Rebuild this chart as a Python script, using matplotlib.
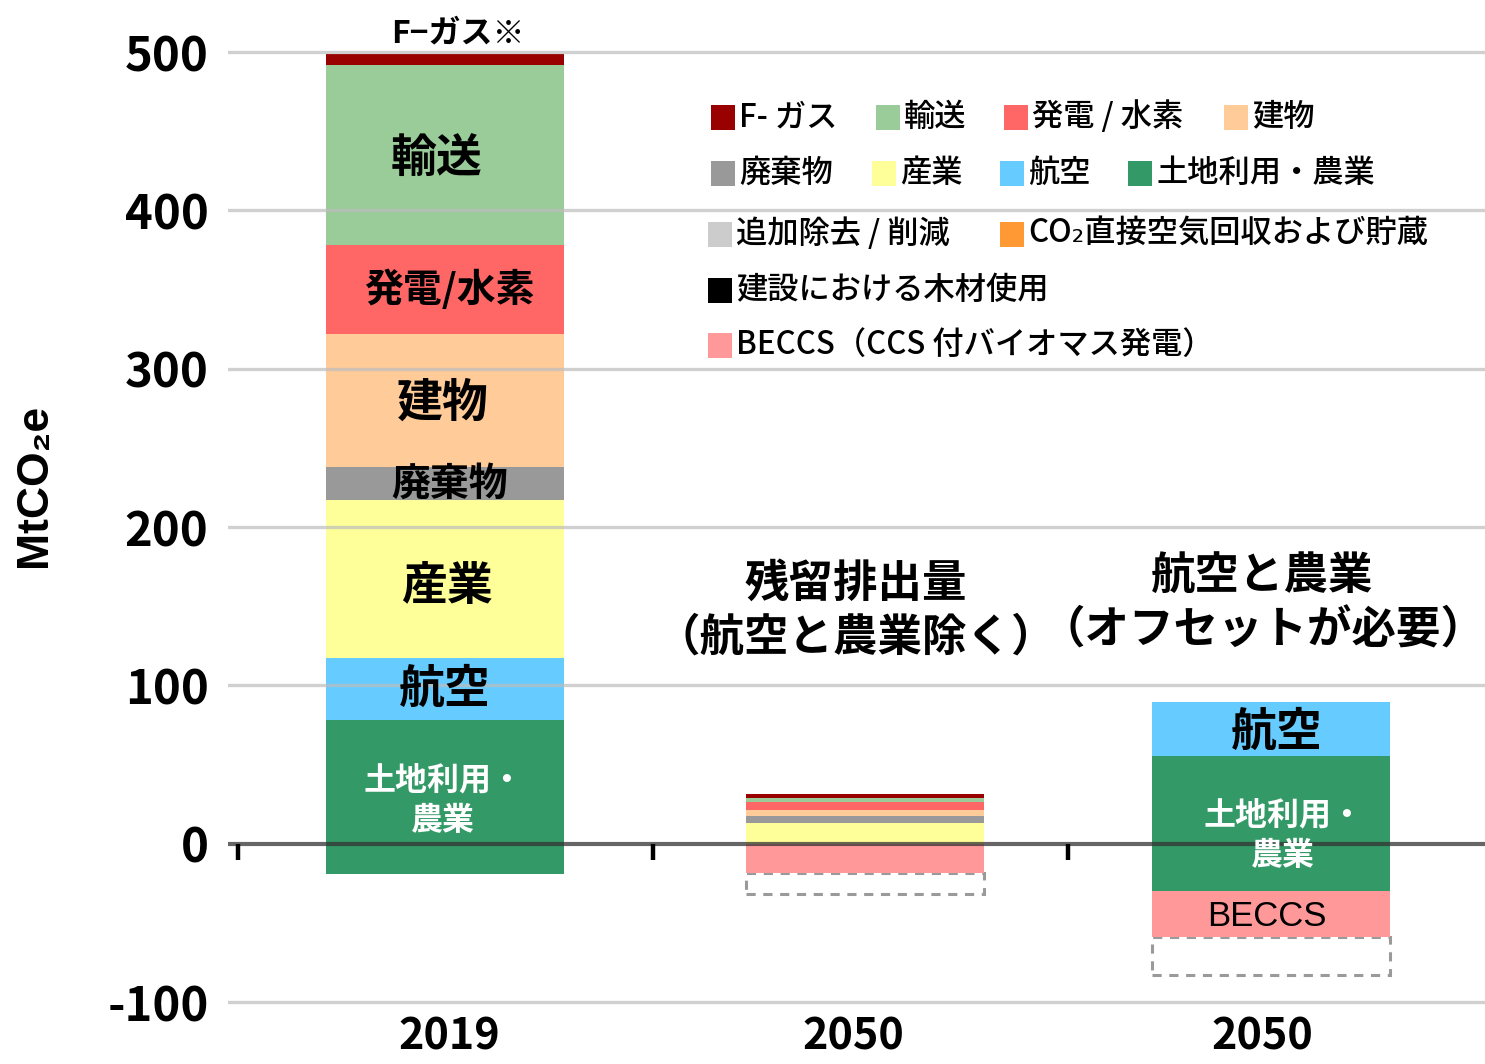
import matplotlib
matplotlib.use("Agg")
import matplotlib.pyplot as plt
from matplotlib.patches import Rectangle
from matplotlib.transforms import Affine2D

plt.rcParams["font.family"] = ["Noto Sans CJK JP", "DejaVu Sans"]

# ---- data (MtCO2e) ----
categories = ["2019", "2050", "2050"]
xpos = [0, 1.012, 1.99]

# stacked upward from zero, bottom -> top
sectors = ["土地利用・農業", "航空", "産業", "廃棄物", "建物", "発電 / 水素", "輸送", "F- ガス"]
sector_colors = ["#339966", "#66ccff", "#ffff99", "#999999", "#ffcc99", "#ff6666", "#99cc99", "#990000"]
values_2019 = [78, 39, 100, 21, 84, 56, 114, 7]
values_residual = [0, 0, 13, 4.5, 3.7, 5, 2.5, 3]
values_offset = [55.5, 34, 0, 0, 0, 0, 0, 0]

# below zero, stacked downward
landuse_neg = [-19, 0, -29.6]
beccs = [0, -18.5, -29]
extra_removal = [0, -13, -24.4]

yticks = [-100, 0, 100, 200, 300, 400, 500]

legend_labels = ["F- ガス", "輸送", "発電 / 水素", "建物",
                 "廃棄物", "産業", "航空", "土地利用・農業",
                 "追加除去 / 削減", "CO₂直接空気回収および貯蔵",
                 "建設における木材使用",
                 "BECCS（CCS 付バイオマス発電）"]
legend_colors = ["#990000", "#99cc99", "#ff6666", "#ffcc99",
                 "#999999", "#ffff99", "#66ccff", "#339966",
                 "#cccccc", "#ff9933", "#000000", "#ff9999"]

W, H = 1485, 1064
fig = plt.figure(figsize=(W / 100, H / 100), dpi=100)
ax = fig.add_axes([228 / W, 1 - 1010 / H, 1257 / W, 980 / H])
ax.set_xlim(-0.523, 2.506)
ax.set_ylim(-105, 513.9)
bw = 0.573

# positive stacks
series = [values_2019, values_residual, values_offset]
bottom = [0.0, 0.0, 0.0]
for i, (name, col) in enumerate(zip(sectors, sector_colors)):
    vals = [s[i] for s in series]
    ax.bar(xpos, vals, bottom=bottom, width=bw, color=col, zorder=2, linewidth=0)
    bottom = [b + v for b, v in zip(bottom, vals)]

# negative stacks
ax.bar(xpos, landuse_neg, width=bw, color="#339966", zorder=2, linewidth=0)
ax.bar(xpos, beccs, bottom=landuse_neg, width=bw, color="#ff9999", zorder=2, linewidth=0)
for xi, lu, b, r in zip(xpos, landuse_neg, beccs, extra_removal):
    if r == 0:
        continue
    ax.add_patch(Rectangle((xi - bw / 2, lu + b + r), bw, -r, fill=False,
                           edgecolor="#9a9a9a", linestyle=(0, (3, 2.5)), linewidth=2.2, zorder=1))

# grid lines over bars, zero line darker
for yv in yticks:
    if yv == 0:
        ax.axhline(0, color="#333333", alpha=0.75, linewidth=3, zorder=4)
    else:
        ax.axhline(yv, color="#bdbdbd", alpha=0.7, linewidth=2.4, zorder=3)
ax.vlines([-0.5, 0.5, 1.5], -10, 0, color="black", linewidth=3.2, zorder=4)

for s in ax.spines.values():
    s.set_visible(False)
ax.set_yticks(yticks)
ax.set_yticklabels([str(t) for t in yticks], fontsize=34, fontweight="bold")
ax.set_xticks([0.01, 0.985, 1.97])
ax.set_xticklabels(categories, fontsize=31, fontweight="bold")
ax.tick_params(axis="y", length=0, pad=14)
ax.tick_params(axis="x", length=0, pad=3)

fig.text(35 / W, 1 - 485 / H, "MtCO₂e", rotation=90, ha="center", va="center",
         fontsize=32, fontweight="bold", family=["Liberation Sans", "DejaVu Sans"])

# bar labels
big = dict(ha="center", va="center", fontweight="bold", zorder=5)
ax.text(0.03, 512, "F−ガス※", fontsize=23, clip_on=False, **big)
ax.text(-0.02, 432, "輸送", fontsize=33, **big)
ax.text(0.01, 350, "発電/水素", fontsize=28, **big)
ax.text(-0.005, 278, "建物", fontsize=33, **big)
ax.text(0.01, 227, "廃棄物", fontsize=28, **big)
ax.text(0.005, 162, "産業", fontsize=33, **big)
ax.text(0.0, 97, "航空", fontsize=33, **big)
ax.text(-0.005, 27, "土地利用・\n農業", fontsize=23, color="white", linespacing=1.35, **big)
ax.text(2.005, 70, "航空", fontsize=33, **big)
ax.text(2.02, 5, "土地利用・\n農業", fontsize=23, color="white", linespacing=1.35, **big)
ax.text(1.98, -46, "BECCS", fontsize=25, ha="center", va="center", zorder=5,
        family=["Liberation Sans Narrow", "Liberation Sans", "DejaVu Sans"])
ax.text(0.99, 147, "残留排出量\n（航空と農業除く）", fontsize=32, linespacing=1.22, **big)
ax.text(1.97, 152, "航空と農業\n（オフセットが必要）", fontsize=32, linespacing=1.25, **big)

# legend drawn in pixel coordinates (origin top-left)
px = Affine2D().scale(1 / W, -1 / H).translate(0, 1) + fig.transFigure
sq_x = [711, 876, 1004, 1224, 711, 872, 1000, 1128, 708, 1000, 708, 708]
row_y = [117, 117, 117, 117, 173, 173, 173, 173, 234, 234, 290, 345]
for lab, col, sx, sy in zip(legend_labels, legend_colors, sq_x, row_y):
    fig.patches.append(Rectangle((sx, sy - 12.5), 24, 25, facecolor=col, edgecolor="none",
                                 transform=px, zorder=6))
    fig.text(sx + 28, sy, lab, transform=px, ha="left", va="center", fontsize=22.5,
             fontweight="medium", zorder=6)

fig.savefig("out.png", dpi=100)
